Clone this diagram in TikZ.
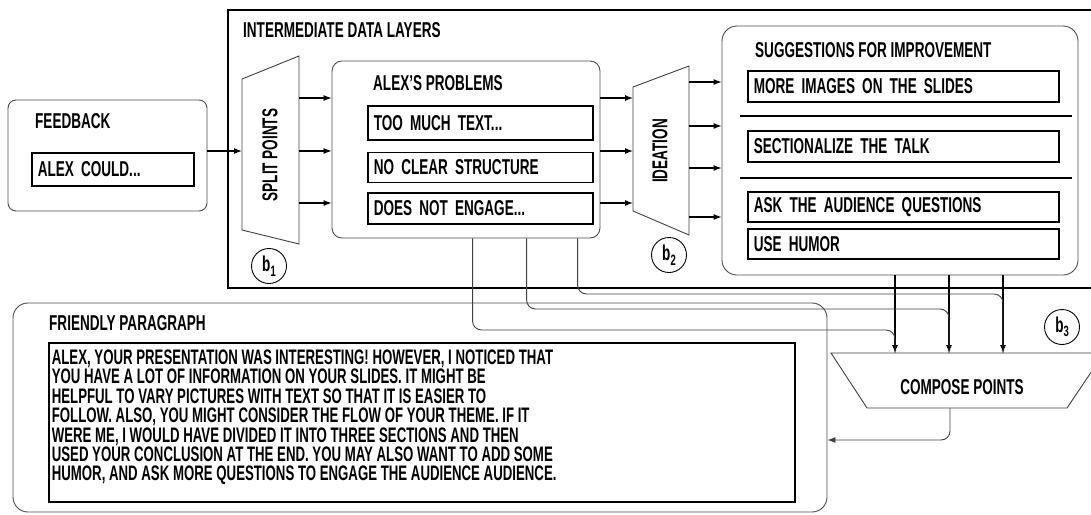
\documentclass[tikz,border=0pt]{standalone}
\usepackage{fontspec}
\setmainfont{Liberation Sans}[FakeStretch=0.63]
\usetikzlibrary{arrows.meta,positioning}

\begin{document}
\begin{tikzpicture}[x=1pt,y=-1pt,>={Latex[length=8pt,width=6pt]},
  every node/.style={font=\bfseries\fontsize{21.5}{23}\selectfont},
  panel/.style={draw=black!70,line width=0.9pt,rounded corners=#1},
  panel/.default=10pt,
  title/.style={anchor=west,inner sep=0pt},
  item/.style={draw,line width=1.6pt,anchor=west,align=left,inner xsep=6pt,inner ysep=0pt,text width=#1},
  link/.style={->,line width=1.1pt},
  wire/.style={draw=black!75,line width=0.9pt,rounded corners=9pt},
  funnel/.style={draw=black!75,line width=0.9pt},
  badge/.style={draw,circle,line width=0.9pt,minimum size=35pt,inner sep=0pt}]
\useasboundingbox (0,0) rectangle (1091,514);
\clip (0,0) rectangle (1091,514);

\node[panel=8pt,minimum width=199pt,minimum height=111pt] (feedback) at (107.5,155.5) {};
\node[title] (feedbacktitle) at (35,121) {FEEDBACK};
\node[item=150pt,minimum height=33pt] (alexcould) at (31,169.5) {ALEX COULD...};

\node[draw,line width=1.1pt,minimum width=892pt,minimum height=278pt] (layers) at (674,149) {};
\node[title] (layerstitle) at (243,30) {INTERMEDIATE DATA LAYERS};

\draw[funnel] (242,79) -- (299,56) -- (299,244) -- (242,230) -- cycle;
\node[rotate=90] (split) at (270,155) {SPLIT POINTS};
\coordinate (splitin) at (242,151);

\node[panel,minimum width=268pt,minimum height=177pt] (alex) at (466,149.5) {};
\node[title] (alextitle) at (373,83) {ALEX'S PROBLEMS};
\node[item=213pt,minimum height=34pt] (toomuch) at (367,123) {TOO MUCH TEXT...};
\node[item=213pt,minimum height=30pt] (noclear) at (367,167.5) {NO CLEAR STRUCTURE};
\node[item=213pt,minimum height=31pt] (noengage) at (367,208.5) {DOES NOT ENGAGE...};

\draw[funnel] (633,87) -- (689,66) -- (689,235) -- (633,211) -- cycle;
\node[rotate=90] (ideation) at (660,151) {IDEATION};

\node[panel=15pt,minimum width=356pt,minimum height=249pt] (sugg) at (900,150.5) {};
\node[title] (suggtitle) at (755,50) {SUGGESTIONS FOR IMPROVEMENT};
\node[item=299pt,minimum height=31pt] (images) at (747,86.5) {MORE IMAGES ON THE SLIDES};
\node[item=299pt,minimum height=31pt] (sections) at (747,146.5) {SECTIONALIZE THE TALK};
\node[item=299pt,minimum height=30pt] (questions) at (747,207) {ASK THE AUDIENCE QUESTIONS};
\node[item=299pt,minimum height=30pt] (humor) at (747,244) {USE HUMOR};
\draw[line width=1.1pt] (740,116) -- (1072,116);
\draw[line width=1.1pt] (740,178) -- (1072,178);

\draw[funnel] (831,353) -- (1104,353) -- (1067,408) -- (867,408) -- cycle;
\node (compose) at (962,387) {COMPOSE POINTS};
\coordinate (cout) at (950,408);

\node[badge] (b1) at (269,266) {b\raisebox{-0.4ex}{\fontsize{15}{15}\selectfont 1}};
\node[badge] (b2) at (669,255) {b\raisebox{-0.4ex}{\fontsize{15}{15}\selectfont 2}};
\node[badge] (b3) at (1062,327) {b\raisebox{-0.4ex}{\fontsize{15}{15}\selectfont 3}};

\node[panel=15pt,minimum width=814pt,minimum height=209pt] (friendly) at (420,407.5) {};
\node[title] (friendlytitle) at (49,323) {FRIENDLY PARAGRAPH};
\node[draw,line width=1.6pt,anchor=north west,inner xsep=3pt,inner ysep=7pt] (para) at (48,342)
  {\parbox[t][145pt][t]{740pt}{\fontsize{21}{19.4}\selectfont
  ALEX, YOUR PRESENTATION WAS INTERESTING! HOWEVER, I NOTICED THAT\\
  YOU HAVE A LOT OF INFORMATION ON YOUR SLIDES. IT MIGHT BE\\
  HELPFUL TO VARY PICTURES WITH TEXT SO THAT IT IS EASIER TO\\
  FOLLOW. ALSO, YOU MIGHT CONSIDER THE FLOW OF YOUR THEME. IF IT\\
  WERE ME, I WOULD HAVE DIVIDED IT INTO THREE SECTIONS AND THEN\\
  USED YOUR CONCLUSION AT THE END. YOU MAY ALSO WANT TO ADD SOME\\
  HUMOR, AND ASK MORE QUESTIONS TO ENGAGE THE AUDIENCE AUDIENCE.}};

\draw[link] (feedback.east |- splitin) -- (splitin);
\foreach \y [count=\i] in {98,151,203} {
  \coordinate (sp\i) at (299,\y);
  \coordinate (id\i) at (633,\y);
}
\foreach \i in {1,2,3} {
  \draw[link] (sp\i) -- (sp\i -| alex.west);
  \draw[link] (alex.east |- id\i) -- (id\i);
}
\foreach \y [count=\i] in {82,126,168,217}
  \coordinate (io\i) at (689,\y);
\foreach \i in {1,...,4}
  \draw[link] (io\i) -- (io\i -| sugg.west);

\foreach \x [count=\i] in {895,949,1003}
  \coordinate (ci\i) at (\x,353);
\foreach \i in {1,2,3}
  \draw[link] (sugg.south -| ci\i) -- (ci\i);
\draw[wire] ([xshift=141pt]alex.south west) |- ([yshift=23pt]ci1) -- (ci1);
\draw[wire] ([xshift=195pt]alex.south west) |- ([yshift=44pt]ci2) -- (ci2);
\draw[wire] ([xshift=246pt]alex.south west) |- ([yshift=59pt]ci3) -- (ci3);
\draw[wire,->] (cout) |- ([yshift=-32.5pt]friendly.east);
\end{tikzpicture}
\end{document}
